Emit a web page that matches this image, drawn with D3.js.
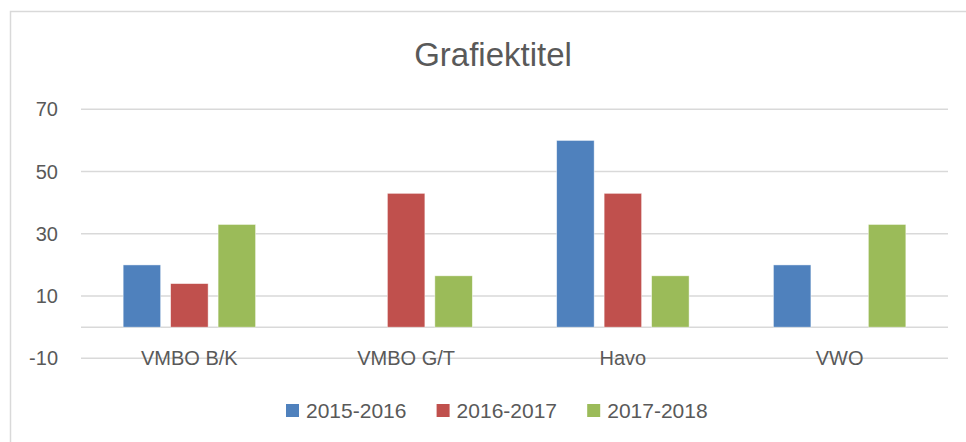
<!DOCTYPE html>
<html>
<head>
<meta charset="utf-8">
<script src="https://cdn.jsdelivr.net/npm/d3@7"></script>
<style>
  body { margin: 0; background: #fff; }
  svg { display: block; }
</style>
</head>
<body>
<svg></svg>
<script>
let categories = ['VMBO B/K', 'VMBO G/T', 'Havo', 'VWO'];
let seriesNames = ['2015-2016', '2016-2017', '2017-2018'];
let values2015 = [20, 0, 60, 20];
let values2016 = [14, 43, 43, 0];
let values2017 = [33, 16.5, 16.5, 33];
let yTicks = [-10, 10, 30, 50, 70];
let colors = ['#4f81bd', '#c0504d', '#9bbb59'];

let width = 966;
let height = 442;
let textColor = '#595959';
let gridColor = '#d9d9d9';

let svg = d3.select('svg')
    .attr('width', width)
    .attr('height', height)
    .attr('font-family', '"Liberation Sans", Arial, sans-serif');

// chart frame (cut off at the right and bottom edges)
svg.append('rect')
    .attr('x', 10.5)
    .attr('y', 11.5)
    .attr('width', 1000)
    .attr('height', 500)
    .attr('fill', 'none')
    .attr('stroke', gridColor)
    .attr('stroke-width', 1.5);

svg.append('text')
    .attr('x', 493)
    .attr('y', 66)
    .attr('text-anchor', 'middle')
    .attr('font-size', 33)
    .attr('fill', textColor)
    .text('Grafiektitel');

let left = 81, right = 948;

let y = d3.scaleLinear()
    .domain([-10, 70])
    .range([358.3, 109.3]);

let x0 = d3.scaleBand()
    .domain(categories)
    .range([left, right])
    .paddingInner(0.389)
    .paddingOuter(0.389 / 2);

let x1 = d3.scaleBand()
    .domain(seriesNames)
    .range([0, x0.bandwidth()])
    .paddingInner(0.21);

// gridlines + zero axis line
svg.append('g')
    .selectAll('line')
    .data(yTicks.concat([0]))
    .enter()
    .append('line')
    .attr('x1', left)
    .attr('x2', right)
    .attr('y1', d => y(d))
    .attr('y2', d => y(d))
    .attr('stroke', gridColor)
    .attr('stroke-width', 1.5);

// y tick labels
svg.append('g')
    .selectAll('text')
    .data(yTicks)
    .enter()
    .append('text')
    .attr('x', 58)
    .attr('y', d => y(d))
    .attr('dy', '0.35em')
    .attr('text-anchor', 'end')
    .attr('font-size', 20)
    .attr('fill', textColor)
    .text(d => d);

let series = [values2015, values2016, values2017];

let rows = categories.map((c, i) => ({
    category: c,
    bars: seriesNames.map((s, j) => ({ name: s, value: series[j][i], color: colors[j] }))
}));

let groups = svg.selectAll('.group')
    .data(rows)
    .enter()
    .append('g')
    .attr('class', 'group')
    .attr('transform', d => `translate(${x0(d.category)}, 0)`);

groups.selectAll('rect')
    .data(d => d.bars.filter(b => b.value > 0))
    .enter()
    .append('rect')
    .attr('x', d => x1(d.name))
    .attr('y', d => y(d.value))
    .attr('width', x1.bandwidth())
    .attr('height', d => y(0) - y(d.value))
    .attr('fill', d => d.color)
    .attr('stroke', '#fff')
    .attr('stroke-opacity', 0.6)
    .attr('stroke-width', 0.75);

// category labels
svg.append('g')
    .selectAll('text')
    .data(categories)
    .enter()
    .append('text')
    .attr('x', d => x0(d) + x0.bandwidth() / 2)
    .attr('y', 365)
    .attr('text-anchor', 'middle')
    .attr('font-size', 20)
    .attr('fill', textColor)
    .text(d => d);

// legend
let legend = svg.append('g')
    .selectAll('g')
    .data(seriesNames)
    .enter()
    .append('g')
    .attr('transform', (d, i) => `translate(${286 + i * 150.6}, 404)`);

legend.append('rect')
    .attr('width', 13)
    .attr('height', 13)
    .attr('fill', (d, i) => colors[i]);

legend.append('text')
    .attr('x', 20)
    .attr('y', 13.5)
    .attr('font-size', 21)
    .attr('fill', textColor)
    .text(d => d);
</script>
</body>
</html>
